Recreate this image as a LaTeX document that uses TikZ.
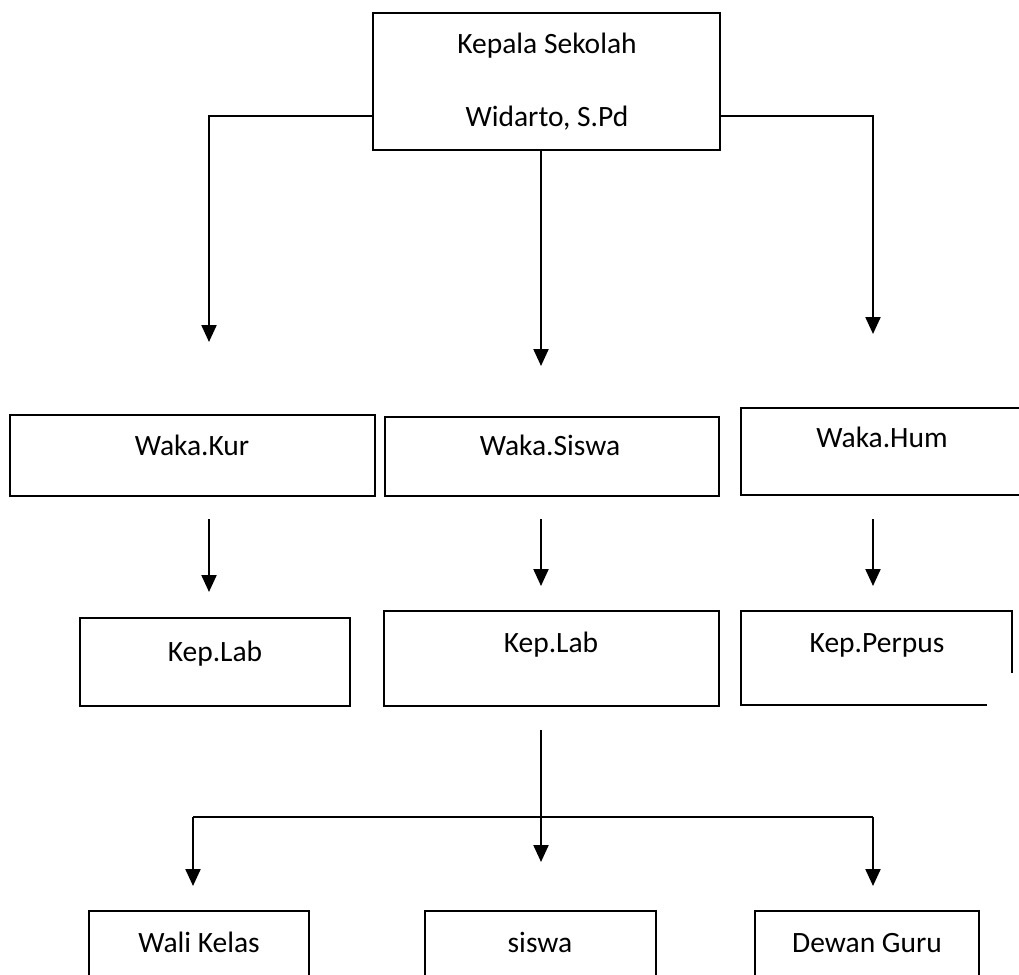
\documentclass[tikz,border=0pt]{standalone}
\usepackage{fontspec}
\setmainfont{Carlito}
\usetikzlibrary{arrows.meta,calc}
\begin{document}
\begin{tikzpicture}[x=1pt,y=-1pt,
  box/.style={draw, line width=2pt, inner sep=0pt, outer sep=0pt, anchor=north west},
  nobox/.style={inner sep=0pt, outer sep=0pt, anchor=north west},
  txt/.style={inner sep=0pt, anchor=base, font=\fontsize{29.5}{35}\selectfont},
  conn/.style={line width=2.2pt},
  arr/.style={line width=2.2pt, -{Triangle[width=15pt,length=17pt]}}]
\useasboundingbox (0,0) rectangle (1019,974);
\begin{scope}
\clip (0,0) rectangle (1019,974);
% top box
\node[box, minimum width=347pt, minimum height=137pt] (kepala) at (373,13) {};
\node[txt] (tk1) at (547,53) {Kepala Sekolah};
\node[txt] (tk2) at (547,126) {Widarto, S.Pd};
% row 2
\node[box, minimum width=365pt, minimum height=81pt] (wkur) at (10,415) {};
\node[txt] (twkur) at (192,455) {Waka.Kur};
\node[box, minimum width=334pt, minimum height=79pt] (wsis) at (385,417) {};
\node[txt] (twsis) at (550,455) {Waka.Siswa};
\node[box, minimum width=320pt, minimum height=87pt] (whum) at (741,408) {};
\node[txt] (twhum) at (882,447) {Waka.Hum};
% row 3
\node[box, minimum width=270pt, minimum height=88pt] (klab1) at (80,618) {};
\node[txt] (tklab1) at (215,661) {Kep.Lab};
\node[box, minimum width=335pt, minimum height=95pt] (klab2) at (384,611) {};
\node[txt] (tklab2) at (551,652) {Kep.Lab};
\node[nobox, minimum width=271pt, minimum height=94pt] (kperp) at (741,611) {};
\draw[line width=2pt] ($(kperp.north east)+(0,62)$) -- (kperp.north east) -- (kperp.north west) -- (kperp.south west) -- ($(kperp.south east)+(-25,0)$);
\node[txt] (tkperp) at (877,652) {Kep.Perpus};
% row 4
\node[box, minimum width=220pt, minimum height=90pt] (wali) at (89,911) {};
\node[txt] (twali) at (199,952) {Wali Kelas};
\node[box, minimum width=231pt, minimum height=90pt] (siswa) at (425,911) {};
\node[txt] (tsiswa) at (540,952) {siswa};
\node[box, minimum width=224pt, minimum height=90pt] (dewan) at (755,911) {};
\node[txt] (tdewan) at (867,952) {Dewan Guru};
% coordinates
\coordinate (kL) at ($(kepala.north west)+(0,103)$);
\coordinate (kR) at ($(kepala.north east)+(0,103)$);
\coordinate (tL) at (209,342);
\coordinate (tC) at (541,366);
\coordinate (tR) at (873,334);
\coordinate (s2L) at (209,519);
\coordinate (t2L) at (209,592);
\coordinate (s2C) at (541,519);
\coordinate (t2C) at (541,586);
\coordinate (s2R) at (873,519);
\coordinate (t2R) at (873,586);
\coordinate (s3) at (541,730);
\coordinate (t3C) at (541,862);
\coordinate (jL) at (193,817);
\coordinate (jR) at (873,817);
\coordinate (t3L) at (193,886);
\coordinate (t3R) at (873,886);
% connectors
\draw[arr] (kL) -| (tL);
\draw[arr] (tC |- kepala.south) -- (tC);
\draw[arr] (kR) -| (tR);
\draw[arr] (s2L) -- (t2L);
\draw[arr] (s2C) -- (t2C);
\draw[arr] (s2R) -- (t2R);
\draw[arr] (s3) -- (t3C);
\draw[conn] (jL) -- (jR);
\draw[arr] (jL) -- (t3L);
\draw[arr] (jR) -- (t3R);
\end{scope}
\end{tikzpicture}
\end{document}
